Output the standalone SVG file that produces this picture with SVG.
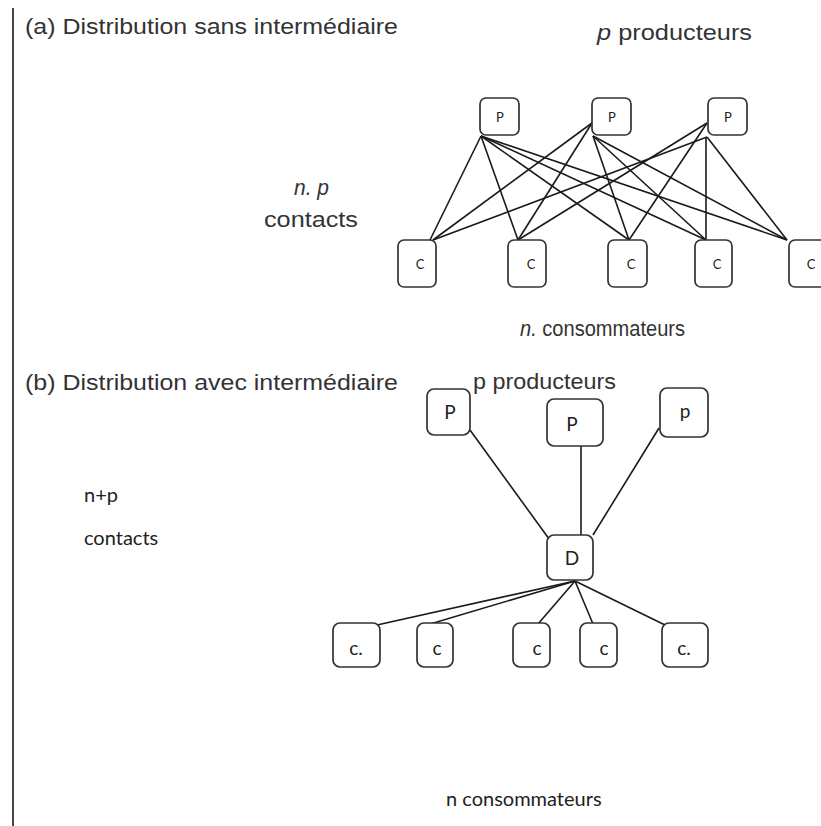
<svg xmlns="http://www.w3.org/2000/svg" width="821" height="826" viewBox="0 0 821 826">
<style>
.bg{fill:#ffffff}
.box{fill:#ffffff;stroke:#333333;stroke-width:1.7}
.ln{stroke:#1a1a1a;stroke-width:1.6;fill:none}
.t{font-family:"Liberation Sans",Arial,sans-serif;font-size:22px;fill:#333333}
.i{font-style:italic}
.c{font-family:Lato,"Open Sans",sans-serif;fill:#222222}
.sm{font-size:13px;text-anchor:middle}
.md{font-size:19px;text-anchor:middle}
</style>
<rect class="bg" x="0" y="0" width="821" height="826"/>
<line class="ln" x1="13" y1="8" x2="13" y2="826"/>

<g id="labels">
<text class="t" x="25" y="34" textLength="373" lengthAdjust="spacingAndGlyphs">(a) Distribution sans intermédiaire</text>
<text class="t" x="597" y="40" textLength="155" lengthAdjust="spacingAndGlyphs"><tspan class="i">p</tspan> producteurs</text>
<text class="t i" x="294" y="195" textLength="35" lengthAdjust="spacingAndGlyphs">n. p</text>
<text class="t" x="264" y="227" textLength="94" lengthAdjust="spacingAndGlyphs">contacts</text>
<text class="t" x="520" y="336" textLength="165" lengthAdjust="spacingAndGlyphs"><tspan class="i">n.</tspan> consommateurs</text>
<text class="t" x="25" y="390" textLength="373" lengthAdjust="spacingAndGlyphs">(b) Distribution avec intermédiaire</text>
<text class="t" x="473" y="389" textLength="143" lengthAdjust="spacingAndGlyphs">p producteurs</text>
<text class="c" x="84" y="502" font-size="20">n+p</text>
<text class="c" x="84" y="545" font-size="20">contacts</text>
<text class="c" x="446" y="806" font-size="20">n consommateurs</text>
</g>

<g id="connectors">
<line class="ln" x1="481" y1="136" x2="430" y2="240"/>
<line class="ln" x1="481" y1="136" x2="518" y2="240"/>
<line class="ln" x1="481" y1="136" x2="629" y2="240"/>
<line class="ln" x1="481" y1="136" x2="706" y2="240"/>
<line class="ln" x1="481" y1="136" x2="787" y2="240"/>
<line class="ln" x1="592" y1="123" x2="433" y2="240"/>
<line class="ln" x1="592" y1="123" x2="518" y2="240"/>
<line class="ln" x1="593" y1="136" x2="629" y2="240"/>
<line class="ln" x1="593" y1="136" x2="706" y2="240"/>
<line class="ln" x1="593" y1="136" x2="787" y2="240"/>
<line class="ln" x1="707" y1="123" x2="518" y2="240"/>
<line class="ln" x1="707" y1="123" x2="629" y2="240"/>
<line class="ln" x1="707" y1="137" x2="433" y2="240"/>
<line class="ln" x1="706" y1="137" x2="706" y2="240"/>
<line class="ln" x1="707" y1="137" x2="787" y2="240"/>

<line class="ln" x1="470" y1="430" x2="552" y2="543"/>
<line class="ln" x1="581" y1="446" x2="581" y2="535"/>
<line class="ln" x1="659" y1="428" x2="593" y2="535"/>
<line class="ln" x1="575" y1="581" x2="377" y2="625"/>
<line class="ln" x1="575" y1="581" x2="420" y2="627"/>
<line class="ln" x1="575" y1="581" x2="538" y2="624"/>
<line class="ln" x1="575" y1="581" x2="593" y2="624"/>
<line class="ln" x1="575" y1="581" x2="665" y2="625"/>
</g>

<g id="a-p1"><rect class="box" x="480" y="98" width="39" height="37" rx="6"/><text class="c sm" x="500" y="122">P</text></g>
<g id="a-p2"><rect class="box" x="592" y="98" width="39" height="37" rx="6"/><text class="c sm" x="612" y="122">P</text></g>
<g id="a-p3"><rect class="box" x="708" y="98" width="39" height="37" rx="6"/><text class="c sm" x="728" y="122">P</text></g>

<g id="a-c1"><rect class="box" x="398" y="240" width="38" height="47" rx="6"/><text class="c sm" x="420" y="269">C</text></g>
<g id="a-c2"><rect class="box" x="508" y="240" width="38" height="47" rx="6"/><text class="c sm" x="531" y="269">C</text></g>
<g id="a-c3"><rect class="box" x="608" y="240" width="39" height="47" rx="6"/><text class="c sm" x="631" y="269">C</text></g>
<g id="a-c4"><rect class="box" x="695" y="240" width="37" height="47" rx="6"/><text class="c sm" x="717" y="269">C</text></g>
<g id="a-c5"><rect class="box" x="789" y="240" width="40" height="47" rx="6"/><text class="c sm" x="811" y="269">C</text></g>

<g id="b-p1"><rect class="box" x="427" y="389" width="43" height="46" rx="7"/><text class="c md" x="450" y="419">P</text></g>
<g id="b-p2"><rect class="box" x="547" y="399" width="56" height="47" rx="7"/><text class="c md" x="572" y="431">P</text></g>
<g id="b-p3"><rect class="box" x="660" y="388" width="48" height="49" rx="7"/><text class="c md" x="685" y="418">p</text></g>
<g id="b-d"><rect class="box" x="547" y="535" width="46" height="45" rx="7"/><text class="c md" x="572" y="565">D</text></g>

<g id="b-c1"><rect class="box" x="333" y="623" width="47" height="44" rx="7"/><text class="c md" x="356" y="655">c.</text></g>
<g id="b-c2"><rect class="box" x="417" y="623" width="36" height="44" rx="7"/><text class="c md" x="437" y="655">c</text></g>
<g id="b-c3"><rect class="box" x="513" y="623" width="37" height="44" rx="7"/><text class="c md" x="537" y="655">c</text></g>
<g id="b-c4"><rect class="box" x="580" y="623" width="37" height="44" rx="7"/><text class="c md" x="604" y="655">c</text></g>
<g id="b-c5"><rect class="box" x="662" y="623" width="46" height="44" rx="7"/><text class="c md" x="684" y="655">c.</text></g>
</svg>
